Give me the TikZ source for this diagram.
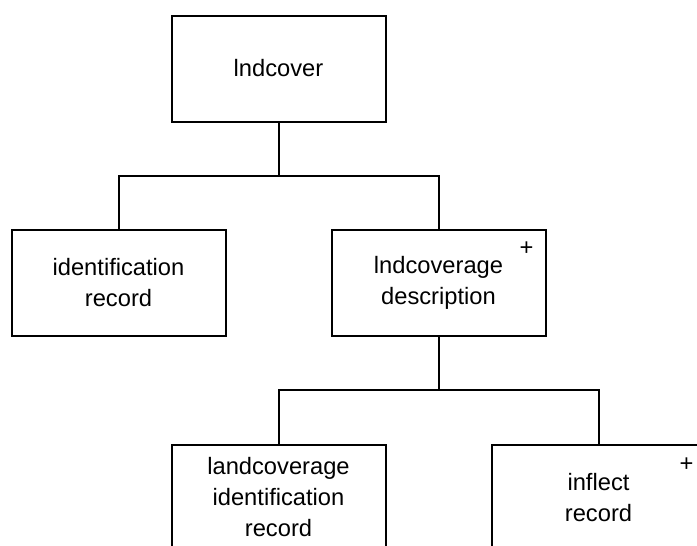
\documentclass[tikz,border=0pt]{standalone}
\usepackage{fontspec}
\setmainfont{Liberation Sans}
\usetikzlibrary{trees}

\begin{document}
\begin{tikzpicture}[line width=1pt, level distance=107.25pt, edge from parent fork down,
					level 1/.style={sibling distance=160pt},
					level 2/.style={sibling distance=160pt}]

    \tikzstyle{every node}=[draw,rectangle,minimum width=107pt,minimum height=53pt,
                            align=center,font=\fontsize{11.85pt}{15.5pt}\selectfont]
    \tikzstyle{plus}=[draw=none,minimum width=0pt,minimum height=0pt,inner sep=0pt]

    \clip (0,0) rectangle (348.5pt,-273pt);

    \node at (139.25pt,-34.25pt) (root){lndcover}
    	child {node (ident){identification\\record}}
    	child {node (desc){lndcoverage\\description}
    		child {node (landid){landcoverage\\identification\\record}}
    		child {node (inflect){inflect\\record}}
    	};

    \node[plus] (descplus) at ([xshift=-10pt,yshift=-10pt]desc.north east){+};
    \node[plus] (inflectplus) at ([xshift=-10pt,yshift=-10.5pt]inflect.north east){+};
\end{tikzpicture}
\end{document}
